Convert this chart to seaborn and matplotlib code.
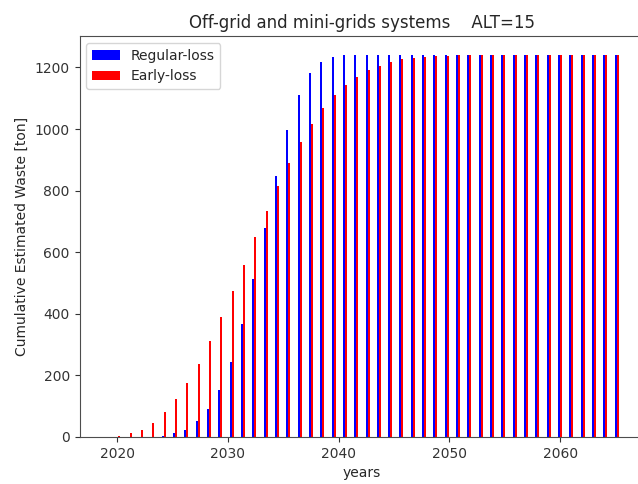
import numpy as np
import matplotlib
matplotlib.use("Agg")
import matplotlib.pyplot as plt
import seaborn as sns

# cumulative estimated waste per model step (46 steps, 2019 -> 2065)
years = np.linspace(2019, 2065, 46)
regular_loss = [0, 0, 0, 0, 0, 3, 12, 24, 51, 91, 151, 243, 366, 514, 680,
                849, 996, 1109, 1181, 1219, 1233, 1240, 1240, 1240, 1240, 1240,
                1240, 1240, 1240, 1240, 1240, 1240, 1240, 1240, 1240, 1240,
                1240, 1240, 1240, 1240, 1240, 1240, 1240, 1240, 1240, 1240]
early_loss = [0, 3, 12, 24, 44, 80, 122, 176, 236, 311, 389, 473, 560, 650,
              734, 815, 890, 958, 1017, 1068, 1109, 1144, 1169, 1190, 1206,
              1217, 1227, 1230, 1233, 1237, 1238, 1240, 1240, 1240, 1240,
              1240, 1240, 1240, 1240, 1240, 1240, 1240, 1240, 1240, 1240, 1240]

system = "Off-grid and mini-grids systems"
alt = 15

sns.set_style("ticks", {"axes.edgecolor": "0.3", "xtick.color": "0.2",
                        "ytick.color": "0.2", "text.color": "0.15",
                        "axes.labelcolor": "0.15"})
plt.rcParams['font.family'] = ['DejaVu Sans']

fig = plt.figure(figsize=(6.38, 4.84), dpi=100)
ax = fig.add_axes([79.5 / 638, 47 / 484, 564.7 / 638, 401 / 484])

w = 0.18
ax.bar(years, regular_loss, width=w, color="blue", linewidth=0, label="Regular-loss")
ax.bar(years + w, early_loss, width=w, color="red", linewidth=0, label="Early-loss")

ax.set_xlabel("years", fontsize=10)
ax.set_ylabel("Cumulative Estimated Waste [ton]", fontsize=10)
ax.set_title(system + "    ALT=" + str(alt), fontsize=12)
ax.tick_params(labelsize=10, length=3.5)
ax.legend(loc="upper left", fontsize=10)

fig.savefig("out.png", dpi=100)
